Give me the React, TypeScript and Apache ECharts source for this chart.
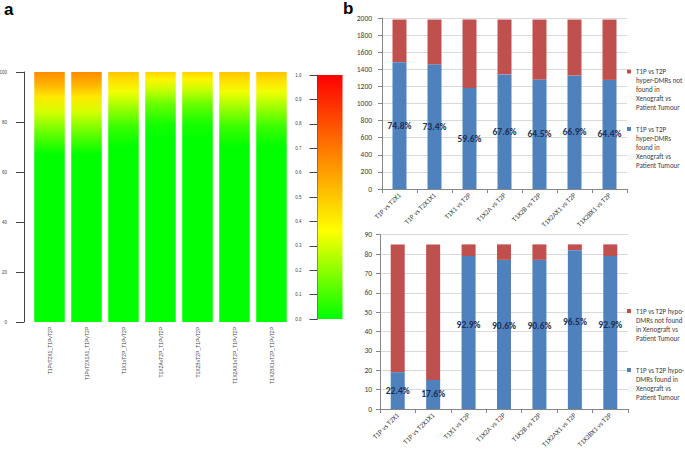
import React, { useEffect, useRef } from 'react';
import * as echarts from 'echarts';

// ---------- Panel a data ----------
const heatCategories = [
  'T1PvT2X1_T1PvT2P',
  'T1PvT2X1X1_T1PvT2P',
  'T1X1vT2P_T1PvT2P',
  'T1X2AvT2P_T1PvT2P',
  'T1X2BvT2P_T1PvT2P',
  'T1X2AX1vT2P_T1PvT2P',
  'T1X2BX1vT2P_T1PvT2P',
];
const heatValues = [100, 100, 100, 100, 100, 100, 100];
const colorbarValue = [1];

// ---------- Panel b data ----------
const compCategories = [
  'T1P vs T2X1',
  'T1P vs T2X1X1',
  'T1X1 vs T2P',
  'T1X2A vs T2P',
  'T1X2B vs T2P',
  'T1X2AX1 vs T2P',
  'T1X2BX1 vs T2P',
];
const hyperFound = [1483, 1455, 1181, 1340, 1278, 1326, 1276];
const hyperNotFound = [499, 527, 801, 642, 704, 656, 706];
const hyperPct = [74.8, 73.4, 59.6, 67.6, 64.5, 66.9, 64.4];

const hypoFound = [19, 15, 79, 77, 77, 82, 79];
const hypoNotFound = [66, 70, 6, 8, 8, 3, 6];
const hypoPct = [22.4, 17.6, 92.9, 90.6, 90.6, 96.5, 92.9];

const hyperNotName = 'T1P vs T2P hyper-DMRs not found in Xenograft vs Patient Tumour';
const hyperFoundName = 'T1P vs T2P hyper-DMRs found in Xenograft vs Patient Tumour';
const hypoNotName = 'T1P vs T2P hypo-DMRs not found in Xenograft vs Patient Tumour';
const hypoFoundName = 'T1P vs T2P hypo-DMRs found in Xenograft vs Patient Tumour';

const hyperNotLines = ['T1P vs T2P', 'hyper-DMRs not', 'found in', 'Xenograft vs', 'Patient Tumour'];
const hyperFoundLines = ['T1P vs T2P', 'hyper-DMRs', 'found in', 'Xenograft vs', 'Patient Tumour'];
const hypoNotLines = ['T1P vs T2P hypo-', 'DMRs not found', 'in Xenograft vs', 'Patient Tumour'];
const hypoFoundLines = ['T1P vs T2P hypo-', 'DMRs found in', 'Xenograft vs', 'Patient Tumour'];

// ---------- styles ----------
const RED = '#c0504d';
const BLUE = '#4f81bd';
const XL_FONT = 'Carlito, Lato, "Open Sans", sans-serif';
const R_FONT = '"Liberation Sans", Arial, sans-serif';

const gradA: [number, string][] = [
  [0, '#ff8c00'], [0.05, '#ffb400'], [0.1, '#ffe800'], [0.16, '#d4ff00'],
  [0.24, '#6aff00'], [0.33, '#00ff00'], [1, '#00ff00'],
];
const gradB: [number, string][] = [
  [0, '#ffc400'], [0.04, '#ffe400'], [0.08, '#f0ff00'], [0.14, '#a0ff00'],
  [0.22, '#38ff00'], [0.3, '#00ff00'], [1, '#00ff00'],
];
const gradC: [number, string][] = [
  [0, '#ffd400'], [0.03, '#fff400'], [0.07, '#c8ff00'], [0.13, '#66ff00'],
  [0.21, '#14ff00'], [0.27, '#00ff00'], [1, '#00ff00'],
];
const heatGradients = [gradA, gradA, gradB, gradC, gradC, gradB, gradB];
const scaleGradient: [number, string][] = [[0, '#ff0000'], [0.64, '#ffff00'], [1, '#00ff00']];

const lg = (stops: [number, string][]) =>
  new echarts.graphic.LinearGradient(0, 0, 0, 1, stops.map(([offset, color]) => ({ offset, color })));

function legendFor(name: string, lines: string[], markerY: number) {
  const n = lines.length;
  const lh = 9;
  // legend text is centred on the marker, so lead with empty lines to put line 1 beside it
  const text = '\n'.repeat(n - 1) + lines.join('\n');
  return {
    data: [name],
    left: 627,
    top: markerY - ((2 * n - 1) * lh) / 2,
    orient: 'vertical',
    padding: 0,
    itemWidth: 4,
    itemHeight: 4,
    icon: 'rect',
    selectedMode: false,
    formatter: () => text,
    textStyle: {
      fontSize: 7,
      lineHeight: lh,
      color: '#404040',
      fontFamily: XL_FONT,
    },
  };
}

function excelX(gridIndex: number) {
  return {
    type: 'category',
    gridIndex,
    data: compCategories,
    axisLine: { show: true, lineStyle: { color: '#868686', width: 1 } },
    axisTick: { show: true, length: 4, lineStyle: { color: '#868686' } },
    axisLabel: { interval: 0, rotate: 45, fontSize: 7, color: '#404040', fontFamily: XL_FONT, margin: 5 },
    splitLine: { show: false },
  };
}

function excelY(gridIndex: number, max: number, interval: number, margin: number) {
  return {
    type: 'value',
    gridIndex,
    min: 0,
    max,
    interval,
    axisLine: { show: true, lineStyle: { color: '#868686', width: 1 } },
    axisTick: { show: true, length: 4, lineStyle: { color: '#868686' } },
    axisLabel: {
      fontSize: 7.5,
      color: '#404040',
      fontFamily: XL_FONT,
      margin,
      formatter: (v: number) => String(v),
    },
    splitLine: { show: true, lineStyle: { color: '#d9d9d9', width: 1 } },
  };
}

const pctLabel = (pcts: number[]) => ({
  show: true,
  position: 'inside',
  formatter: (p: any) => pcts[p.dataIndex].toFixed(1) + '%',
  color: '#1a2f55',
  fontSize: 9.5,
  fontWeight: 'bold',
  fontFamily: XL_FONT,
});

const option: any = {
  animation: false,
  backgroundColor: '#ffffff',
  grid: [
    { left: 31, top: 72, width: 259, height: 250, outerBoundsMode: 'none' },
    { left: 317.5, top: 75, width: 25, height: 244, outerBoundsMode: 'none' },
    { left: 382, top: 18, width: 245, height: 171, outerBoundsMode: 'none' },
    { left: 380, top: 234.7, width: 248, height: 174.3, outerBoundsMode: 'none' },
  ],
  xAxis: [
    {
      type: 'category',
      gridIndex: 0,
      data: heatCategories,
      axisLine: { show: false },
      axisTick: { show: false },
      axisLabel: { interval: 0, rotate: 90, fontSize: 5, color: '#444', fontFamily: R_FONT, margin: 5 },
    },
    { type: 'category', gridIndex: 1, data: ['scale'], show: false },
    excelX(2),
    excelX(3),
  ],
  yAxis: [
    {
      type: 'value',
      gridIndex: 0,
      min: 0,
      max: 100,
      interval: 20,
      offset: 7,
      axisLine: { show: true, lineStyle: { color: '#444', width: 1 } },
      axisTick: { show: true, length: 8, lineStyle: { color: '#444' } },
      axisLabel: { fontSize: 4.5, color: '#444', fontFamily: R_FONT, margin: 17 },
      splitLine: { show: false },
    },
    {
      type: 'value',
      gridIndex: 1,
      min: 0,
      max: 1,
      interval: 0.1,
      axisLine: { show: true, lineStyle: { color: '#444', width: 1 } },
      axisTick: { show: true, length: 8, lineStyle: { color: '#444' } },
      axisLabel: {
        fontSize: 4.5,
        color: '#444',
        fontFamily: R_FONT,
        margin: 16,
        formatter: (v: number) => v.toFixed(1),
      },
      splitLine: { show: false },
    },
    excelY(2, 2000, 200, 10),
    excelY(3, 90, 10, 8),
  ],
  legend: [
    legendFor(hyperNotName, hyperNotLines, 71.5),
    legendFor(hyperFoundName, hyperFoundLines, 129),
    legendFor(hypoNotName, hypoNotLines, 311),
    legendFor(hypoFoundName, hypoFoundLines, 370),
  ],
  series: [
    {
      type: 'bar',
      name: 'heat',
      xAxisIndex: 0,
      yAxisIndex: 0,
      barWidth: 30.5,
      data: heatValues.map((v, i) => ({ value: v, itemStyle: { color: lg(heatGradients[i]) } })),
    },
    {
      type: 'bar',
      name: 'scale',
      xAxisIndex: 1,
      yAxisIndex: 1,
      barWidth: '100%',
      data: colorbarValue,
      itemStyle: { color: lg(scaleGradient) },
    },
    {
      type: 'bar',
      name: hyperFoundName,
      xAxisIndex: 2,
      yAxisIndex: 2,
      stack: 'hyper',
      barWidth: 14,
      data: hyperFound,
      itemStyle: { color: BLUE },
      label: pctLabel(hyperPct),
      z: 2,
    },
    {
      type: 'bar',
      name: hyperNotName,
      xAxisIndex: 2,
      yAxisIndex: 2,
      stack: 'hyper',
      barWidth: 14,
      data: hyperNotFound,
      itemStyle: { color: RED },
      z: 1,
    },
    {
      type: 'bar',
      name: hypoFoundName,
      xAxisIndex: 3,
      yAxisIndex: 3,
      stack: 'hypo',
      barWidth: 14,
      data: hypoFound.map((v, i) => ({
        value: v,
        label: hypoPct[i] > 50 ? { offset: [0, -8] } : undefined,
      })),
      itemStyle: { color: BLUE },
      label: pctLabel(hypoPct),
      z: 2,
    },
    {
      type: 'bar',
      name: hypoNotName,
      xAxisIndex: 3,
      yAxisIndex: 3,
      stack: 'hypo',
      barWidth: 14,
      data: hypoNotFound,
      itemStyle: { color: RED },
      z: 1,
    },
  ],
  graphic: [
    {
      type: 'text',
      left: 4,
      top: 1,
      style: { text: 'a', fontSize: 17, fontWeight: 'bold', fontFamily: R_FONT, fill: '#000' },
    },
    {
      type: 'text',
      left: 343,
      top: 0,
      style: { text: 'b', fontSize: 17, fontWeight: 'bold', fontFamily: R_FONT, fill: '#000' },
    },
  ],
};

export default function App() {
  const ref = useRef<HTMLDivElement>(null);
  useEffect(() => {
    document.body.style.margin = '0';
    const chart = echarts.init(ref.current!, null, { renderer: 'svg' });
    chart.setOption(option);
    return () => chart.dispose();
  }, []);
  return <div ref={ref} style={{ width: 685, height: 449 }} />;
}
